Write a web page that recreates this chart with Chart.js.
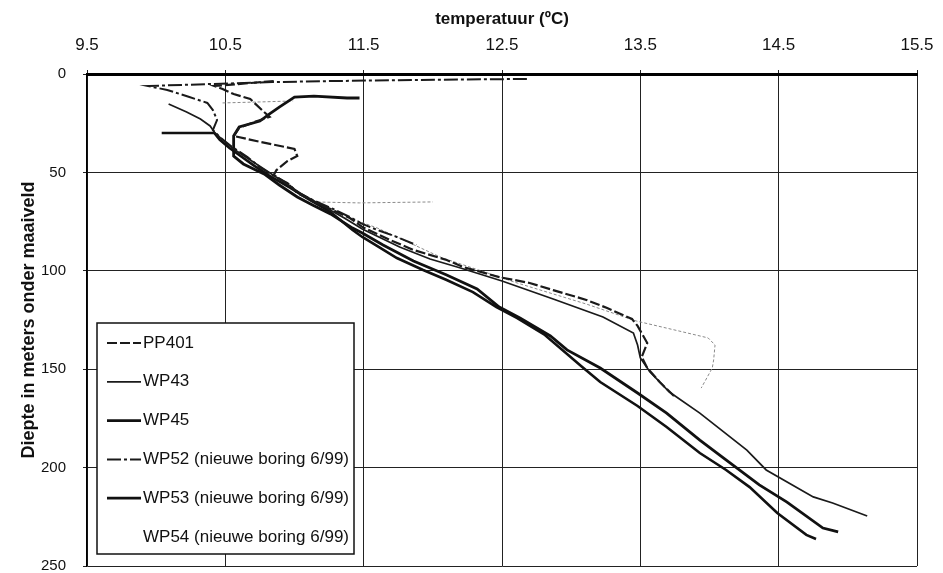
<!DOCTYPE html>
<html>
<head>
<meta charset="utf-8">
<script src="https://cdn.jsdelivr.net/npm/chart.js@4.4.1/dist/chart.umd.min.js"></script>
<style>
  body { margin: 0; background: #fff; }
</style>
</head>
<body>
<canvas id="chart" width="943" height="573"></canvas>
<script>
// axis ticks
const xTicks = [9.5, 10.5, 11.5, 12.5, 13.5, 14.5, 15.5];
const yTicks = [0, 50, 100, 150, 200, 250];

const seriesNames = ["PP401", "WP43", "WP45", "WP52 (nieuwe boring 6/99)", "WP53 (nieuwe boring 6/99)", "WP54 (nieuwe boring 6/99)"];

// temperatuur (oC) and diepte (m)
const pp401Temp = [10.85, 10.42, 10.48, 10.56, 10.68, 10.78, 10.82, 10.71, 10.60, 10.56, 10.76, 11.00, 11.02, 10.95, 10.87, 10.85, 10.97, 11.02, 11.13, 11.26, 11.40, 11.49, 11.69, 11.86, 12.10, 12.22, 12.48, 12.70, 12.87, 13.11, 13.26, 13.44, 13.48, 13.55, 13.51, 13.55, 13.64, 13.75];
const pp401Depth = [3.6, 6.1, 7.6, 10.2, 12.7, 19.3, 21.8, 24.4, 27.4, 31.5, 34.6, 38.1, 41.7, 44.2, 48.8, 51.3, 56.9, 60.5, 64.5, 68.6, 73.2, 77.7, 84.3, 89.4, 94.5, 98.1, 103.2, 106.2, 109.8, 114.8, 118.9, 124.5, 128.0, 136.7, 143.8, 149.4, 156.5, 164.1];

const wp43Temp = [10.09, 10.22, 10.32, 10.39, 10.42, 10.48, 10.57, 10.68, 10.79, 10.91, 11.04, 11.18, 11.36, 11.49, 11.76, 11.98, 12.20, 12.50, 12.87, 13.23, 13.45, 13.48, 13.50, 13.57, 13.71, 13.93, 14.27, 14.41, 14.75, 14.89, 15.14];
const wp43Depth = [15.2, 19.3, 22.9, 26.4, 29.5, 33.5, 38.6, 43.7, 48.8, 54.4, 60.5, 66.1, 73.2, 78.8, 87.9, 94.0, 98.6, 105.2, 114.3, 123.5, 131.6, 137.7, 144.3, 151.4, 161.6, 172.3, 191.1, 201.2, 214.9, 218.0, 224.6];

const wp45Temp = [10.04, 10.42, 10.46, 10.53, 10.61, 10.71, 10.82, 10.97, 11.11, 11.26, 11.42, 11.49, 11.62, 11.74, 11.93, 12.10, 12.29, 12.46, 12.61, 12.81, 13.08, 13.21, 13.48, 13.69, 13.93, 14.12, 14.29, 14.49, 14.70, 14.77];
const wp45Depth = [30.0, 30.0, 33.5, 37.6, 41.7, 46.7, 51.8, 57.9, 64.0, 70.1, 79.3, 82.8, 88.4, 93.5, 99.6, 104.7, 110.8, 118.4, 124.0, 132.6, 148.9, 156.5, 168.7, 179.4, 192.6, 201.2, 209.9, 223.1, 234.2, 236.3];

const wp52Temp = [12.68, 11.91, 11.26, 10.84, 9.94, 10.08, 10.24, 10.37, 10.41, 10.44, 10.41, 10.46, 10.55, 10.66, 10.75, 10.84, 10.95, 11.02, 11.13, 11.28, 11.40, 11.49, 11.62, 11.74, 11.88];
const wp52Depth = [2.5, 3.0, 3.6, 4.1, 6.1, 8.1, 11.7, 14.7, 18.3, 23.4, 28.5, 32.0, 37.1, 42.2, 47.3, 51.3, 55.4, 60.0, 64.0, 68.6, 72.7, 76.2, 79.8, 82.8, 86.9];

const wp53Temp = [11.47, 11.38, 11.14, 11.00, 10.89, 10.82, 10.75, 10.60, 10.56, 10.56, 10.63, 10.78, 10.89, 11.02, 11.13, 11.26, 11.42, 11.49, 11.64, 11.86, 12.10, 12.32, 12.48, 12.63, 12.85, 12.97, 13.21, 13.48, 13.69, 13.93, 14.10, 14.36, 14.56, 14.82, 14.93];
const wp53Depth = [12.2, 12.2, 11.2, 11.7, 16.8, 20.3, 23.9, 26.9, 31.5, 41.7, 45.7, 50.8, 56.4, 62.5, 66.6, 71.1, 78.3, 80.8, 86.9, 95.0, 102.1, 109.2, 118.4, 124.0, 133.1, 140.2, 149.4, 162.1, 172.3, 186.0, 195.1, 208.8, 217.5, 230.7, 232.7];

// null = break in the log
const wp54Temp = [10.48, 10.75, 10.99, null, 11.13, 11.47, 12.00, null, 11.42, 11.60, 12.07, 12.20, 12.61, 13.11, 13.47, 13.78, 13.99, 14.04, 14.03, 14.02, 13.94];
const wp54Depth = [14.7, 14.2, 13.7, null, 65.0, 65.5, 65.0, null, 73.7, 78.3, 93.5, 96.5, 106.2, 116.9, 125.5, 130.6, 134.1, 137.7, 145.3, 149.4, 159.6];

const FONT = '"Liberation Sans", Arial, sans-serif';
Chart.defaults.font.family = FONT;
Chart.defaults.color = "#111";

function toPoints(temps, depths) {
  return temps.map((t, i) => ({ x: t, y: depths[i] }));
}

const legendBox = {
  id: "legendBox",
  afterDraw(chart) {
    const { ctx, chartArea } = chart;
    const left = chartArea.left + 10;
    const bottom = chartArea.bottom - 12;
    const w = 257, h = 231;
    const top = bottom - h;
    ctx.save();
    ctx.fillStyle = "#fff";
    ctx.fillRect(left, top, w, h);
    ctx.lineWidth = 1.5;
    ctx.strokeStyle = "#111";
    ctx.strokeRect(left, top, w, h);
    ctx.font = "17px " + FONT;
    ctx.textBaseline = "middle";
    chart.data.datasets.forEach((ds, i) => {
      const y = top + 20 + i * 38.8;
      if (ds.legendLine !== false) {
        ctx.beginPath();
        ctx.setLineDash(ds.borderDash || []);
        ctx.lineWidth = ds.borderWidth;
        ctx.strokeStyle = ds.borderColor;
        ctx.moveTo(left + 10, y);
        ctx.lineTo(left + 44, y);
        ctx.stroke();
      }
      ctx.setLineDash([]);
      ctx.fillStyle = "#111";
      ctx.fillText(ds.label, left + 46, y);
    });
    ctx.restore();
  }
};

new Chart(document.getElementById("chart"), {
  type: "line",
  data: {
    datasets: [
      { label: seriesNames[0], data: toPoints(pp401Temp, pp401Depth), borderColor: "#1a1a1a", borderWidth: 2.2, borderDash: [10, 3] },
      { label: seriesNames[1], data: toPoints(wp43Temp, wp43Depth), borderColor: "#1a1a1a", borderWidth: 1.7 },
      { label: seriesNames[2], data: toPoints(wp45Temp, wp45Depth), borderColor: "#111", borderWidth: 2.6 },
      { label: seriesNames[3], data: toPoints(wp52Temp, wp52Depth), borderColor: "#1a1a1a", borderWidth: 2, borderDash: [14, 3, 3, 3] },
      { label: seriesNames[4], data: toPoints(wp53Temp, wp53Depth), borderColor: "#111", borderWidth: 2.8 },
      { label: seriesNames[5], data: toPoints(wp54Temp, wp54Depth), borderColor: "#8a8a8a", borderWidth: 1, borderDash: [3, 2], legendLine: false }
    ]
  },
  options: {
    responsive: false,
    animation: false,
    layout: { padding: { left: 0, top: 0, right: 26, bottom: 7 } },
    elements: { point: { radius: 0 }, line: { tension: 0, fill: false } },
    plugins: { legend: { display: false }, tooltip: { enabled: false } },
    scales: {
      x: {
        type: "linear",
        position: "top",
        min: 9.5,
        max: 15.5,
        afterBuildTicks: axis => { axis.ticks = xTicks.map(v => ({ value: v })); },
        afterFit: axis => { axis.height = 74; axis.paddingLeft = 0; axis.paddingRight = 0; },
        ticks: { font: { size: 17 }, color: "#111", padding: 14, callback: v => String(v) },
        grid: { color: "#222", lineWidth: 1, tickLength: 4 },
        border: { color: "#000", width: 3 },
        title: { display: true, text: "temperatuur (ºC)", font: { size: 17, weight: "bold" }, color: "#111", padding: { top: 9, bottom: 0 } }
      },
      y: {
        type: "linear",
        reverse: true,
        min: 0,
        max: 250,
        afterBuildTicks: axis => { axis.ticks = yTicks.map(v => ({ value: v })); },
        afterFit: axis => { axis.width = 87; axis.paddingTop = 0; axis.paddingBottom = 0; },
        ticks: { font: { size: 15 }, color: "#111", padding: 17 },
        grid: { color: "#222", lineWidth: 1, tickLength: 4 },
        border: { color: "#000", width: 1.5 },
        title: { display: true, text: "Diepte in meters onder maaiveld", font: { size: 18, weight: "bold" }, color: "#111", padding: { top: 18, bottom: 0 } }
      }
    }
  },
  plugins: [legendBox]
});
</script>
</body>
</html>
